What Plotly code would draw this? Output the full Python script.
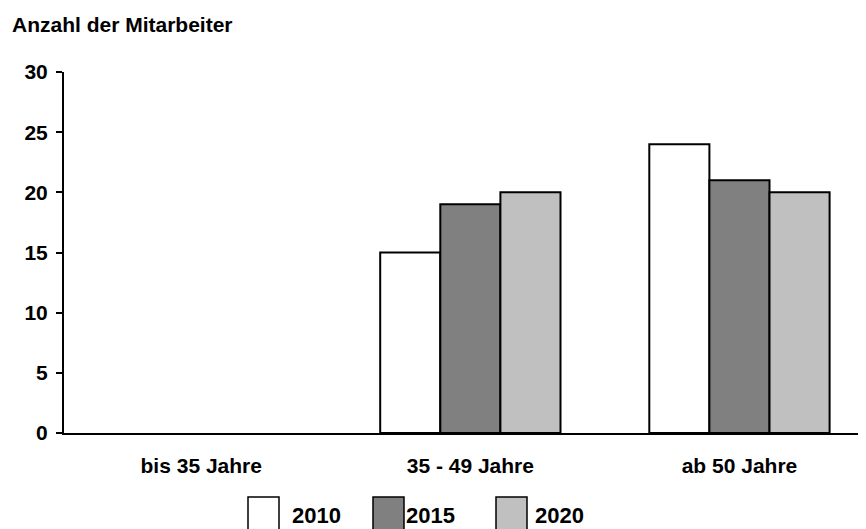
import plotly.graph_objects as go

# Daten
altersgruppen = ['bis 35 Jahre', '35 - 49 Jahre', 'ab 50 Jahre']
jahre = ['2010', '2015', '2020']
werte_2010 = [0, 15, 24]
werte_2015 = [0, 19, 21]
werte_2020 = [0, 20, 20]

farben = ['#ffffff', '#808080', '#c0c0c0']
schrift = dict(family='Liberation Sans, Arial, sans-serif', size=21, color='black')

W, H = 866, 529
L, R, T, B = 56, 0, 64, 104

fig = go.Figure()
for jahr, werte, farbe in zip(jahre, [werte_2010, werte_2015, werte_2020], farben):
    # leere Balken (Wert 0) ohne Rahmen zeichnen
    rahmen = [2 if v > 0 else 0 for v in werte]
    fig.add_trace(go.Bar(x=altersgruppen, y=werte, name=jahr,
                         marker=dict(color=farbe, line=dict(color='black', width=rahmen)),
                         showlegend=False))

# Legende von Hand (grosse Kaestchen wie im Original)
def px_x(px):
    return (px - L) / (W - L - R)

def px_y(py):
    return (H - B - py) / (H - T - B)

box_links = [240, 365, 488]
text_links = [282, 396, 525]
for jahr, farbe, x0, xt in zip(jahre, farben, box_links, text_links):
    fig.add_shape(type='rect', xref='paper', yref='paper',
                  x0=px_x(x0), x1=px_x(x0 + 31), y0=px_y(489), y1=px_y(540),
                  fillcolor=farbe, line=dict(color='black', width=1.5))
    fig.add_annotation(text='<b>' + jahr + '</b>', xref='paper', yref='paper',
                       x=px_x(xt), y=px_y(507), xanchor='left', yanchor='middle',
                       showarrow=False, font=dict(size=22))

fig.update_layout(
    width=W, height=H,
    margin=dict(l=L, r=R, t=T, b=B),
    plot_bgcolor='white', paper_bgcolor='white',
    barmode='group', bargap=0.33, bargroupgap=0,
    font=schrift,
    title=dict(text='<b>Anzahl der Mitarbeiter</b>', x=4 / W, xref='container', xanchor='left',
               y=1 - 17 / H, yref='container', yanchor='middle', font=dict(size=21)),
    xaxis=dict(range=[-0.51, 2.5], showline=True, linecolor='black', linewidth=2,
               ticks='', showgrid=False,
               ticklabelstandoff=13,
               tickvals=altersgruppen, ticktext=['<b>' + a + '</b>' for a in altersgruppen]),
    yaxis=dict(range=[0, 30], dtick=5, showline=True, linecolor='black', linewidth=2,
               ticks='outside', ticklen=6, tickwidth=2, tickcolor='black',
               showgrid=False, zeroline=False, ticklabelstandoff=4,
               tickvals=[0, 5, 10, 15, 20, 25, 30],
               ticktext=['<b>%d</b>' % v for v in [0, 5, 10, 15, 20, 25, 30]]),
)

fig.write_html('out.html')
